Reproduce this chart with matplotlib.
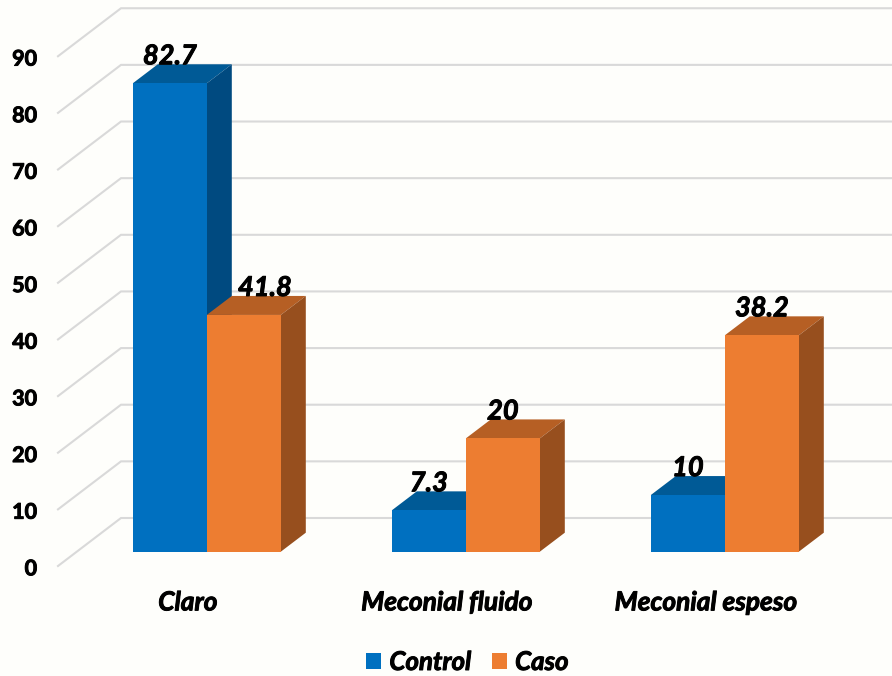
import matplotlib
matplotlib.use("Agg")
import matplotlib.pyplot as plt
import matplotlib.patheffects as pe
from matplotlib.patches import Polygon, Patch

categorias = ["Claro", "Meconial fluido", "Meconial espeso"]
control = [82.7, 7.3, 10]
caso = [41.8, 20, 38.2]
control_labels = ["82.7", "7.3", "10"]
caso_labels = ["41.8", "20", "38.2"]
ticks = [0, 10, 20, 30, 40, 50, 60, 70, 80, 90]

BG = "#FEFEFB"
GRID = "#D9D9D9"
AZUL = ("#0070C0", "#005A96", "#004A80")
NARANJA = ("#ED7D31", "#B65F24", "#974F1E")

W, H = 892, 676
PX_X = 259.0    # px between categories
PX_Y = 5.664    # px per unit
X0, Y0 = 206.8, 551.7

BAR_W = 74.0 / PX_X
DX = 25.0 / PX_X    # bar depth
DY = 19.0 / PX_Y
FLOOR_DX = 63.0 / PX_X    # wall gridline offset
FLOOR_DY = 48.0 / PX_Y
FLOOR_Y = 5.95
LEFT = -X0 / PX_X + 121.0 / PX_X

# heavier strokes on the bold text
GRUESO = [pe.withStroke(linewidth=0.7, foreground="black")]

plt.rcParams["font.family"] = ["Lato", "DejaVu Sans"]

fig = plt.figure(figsize=(W / 100, H / 100), dpi=100, facecolor=BG)
ax = fig.add_axes([0, 0, 1, 1])
ax.set_xlim(-X0 / PX_X, (W - X0) / PX_X)
ax.set_ylim(-(H - Y0) / PX_Y, Y0 / PX_Y)
ax.axis("off")

# back wall lines with their diagonal return
for t in ticks:
    y = FLOOR_Y + t
    ax.plot([LEFT - FLOOR_DX, LEFT, ax.get_xlim()[1]], [y - FLOOR_DY, y, y],
            color=GRID, lw=1.5, solid_joinstyle="miter", zorder=1)
    ax.text(LEFT - FLOOR_DX - 21.0 / PX_X, y - FLOOR_DY - 0.5, str(t), ha="right", va="center",
            fontsize=15.5, fontweight="bold", color="black", zorder=5, path_effects=GRUESO)


def barra(x, v, colores, z):
    frente, arriba, lado = colores
    x1 = x + BAR_W
    ax.add_patch(Polygon([(x, 0), (x1, 0), (x1, v), (x, v)], fc=frente, ec="none", zorder=z + 0.2))
    ax.add_patch(Polygon([(x, v), (x1, v), (x1 + DX, v + DY), (x + DX, v + DY)], fc=arriba, ec="none", zorder=z))
    ax.add_patch(Polygon([(x1, 0), (x1 + DX, DY), (x1 + DX, v + DY), (x1, v)], fc=lado, ec="none", zorder=z))


for i, cat in enumerate(categorias):
    barra(i - BAR_W, control[i], AZUL, 2)
    barra(i, caso[i], NARANJA, 3)

    # the Claro/Caso label is nudged right, clear of the blue side face
    nudge = 21.0 / PX_X if i == 0 else 0
    ax.text(i - BAR_W / 2, control[i] + DY, control_labels[i], ha="center", va="baseline",
            fontsize=19.6, fontweight="bold", style="italic", color="black", zorder=6, path_effects=GRUESO)
    ax.text(i + BAR_W / 2 + nudge, caso[i] + DY, caso_labels[i], ha="center", va="baseline",
            fontsize=19.6, fontweight="bold", style="italic", color="black", zorder=6, path_effects=GRUESO)
    ax.text(i - 19.0 / PX_X, -8.95, cat, ha="center", va="center",
            fontsize=18.9, fontweight="bold", style="italic", color="black", zorder=6, path_effects=GRUESO)

handles = [Patch(fc=AZUL[0], ec="none", label="Control"), Patch(fc=NARANJA[0], ec="none", label="Caso")]
leg = fig.legend(handles=handles, loc="center", bbox_to_anchor=(467.5 / W, 1 - 662 / H), ncol=2, frameon=False,
                 handlelength=0.58, handleheight=0.58, handletextpad=0.31, columnspacing=0.81,
                 prop={"size": 18.6, "weight": "bold", "style": "italic"})
for txt in leg.get_texts():
    txt.set_path_effects(GRUESO)

fig.savefig("out.png", dpi=100, facecolor=BG)
